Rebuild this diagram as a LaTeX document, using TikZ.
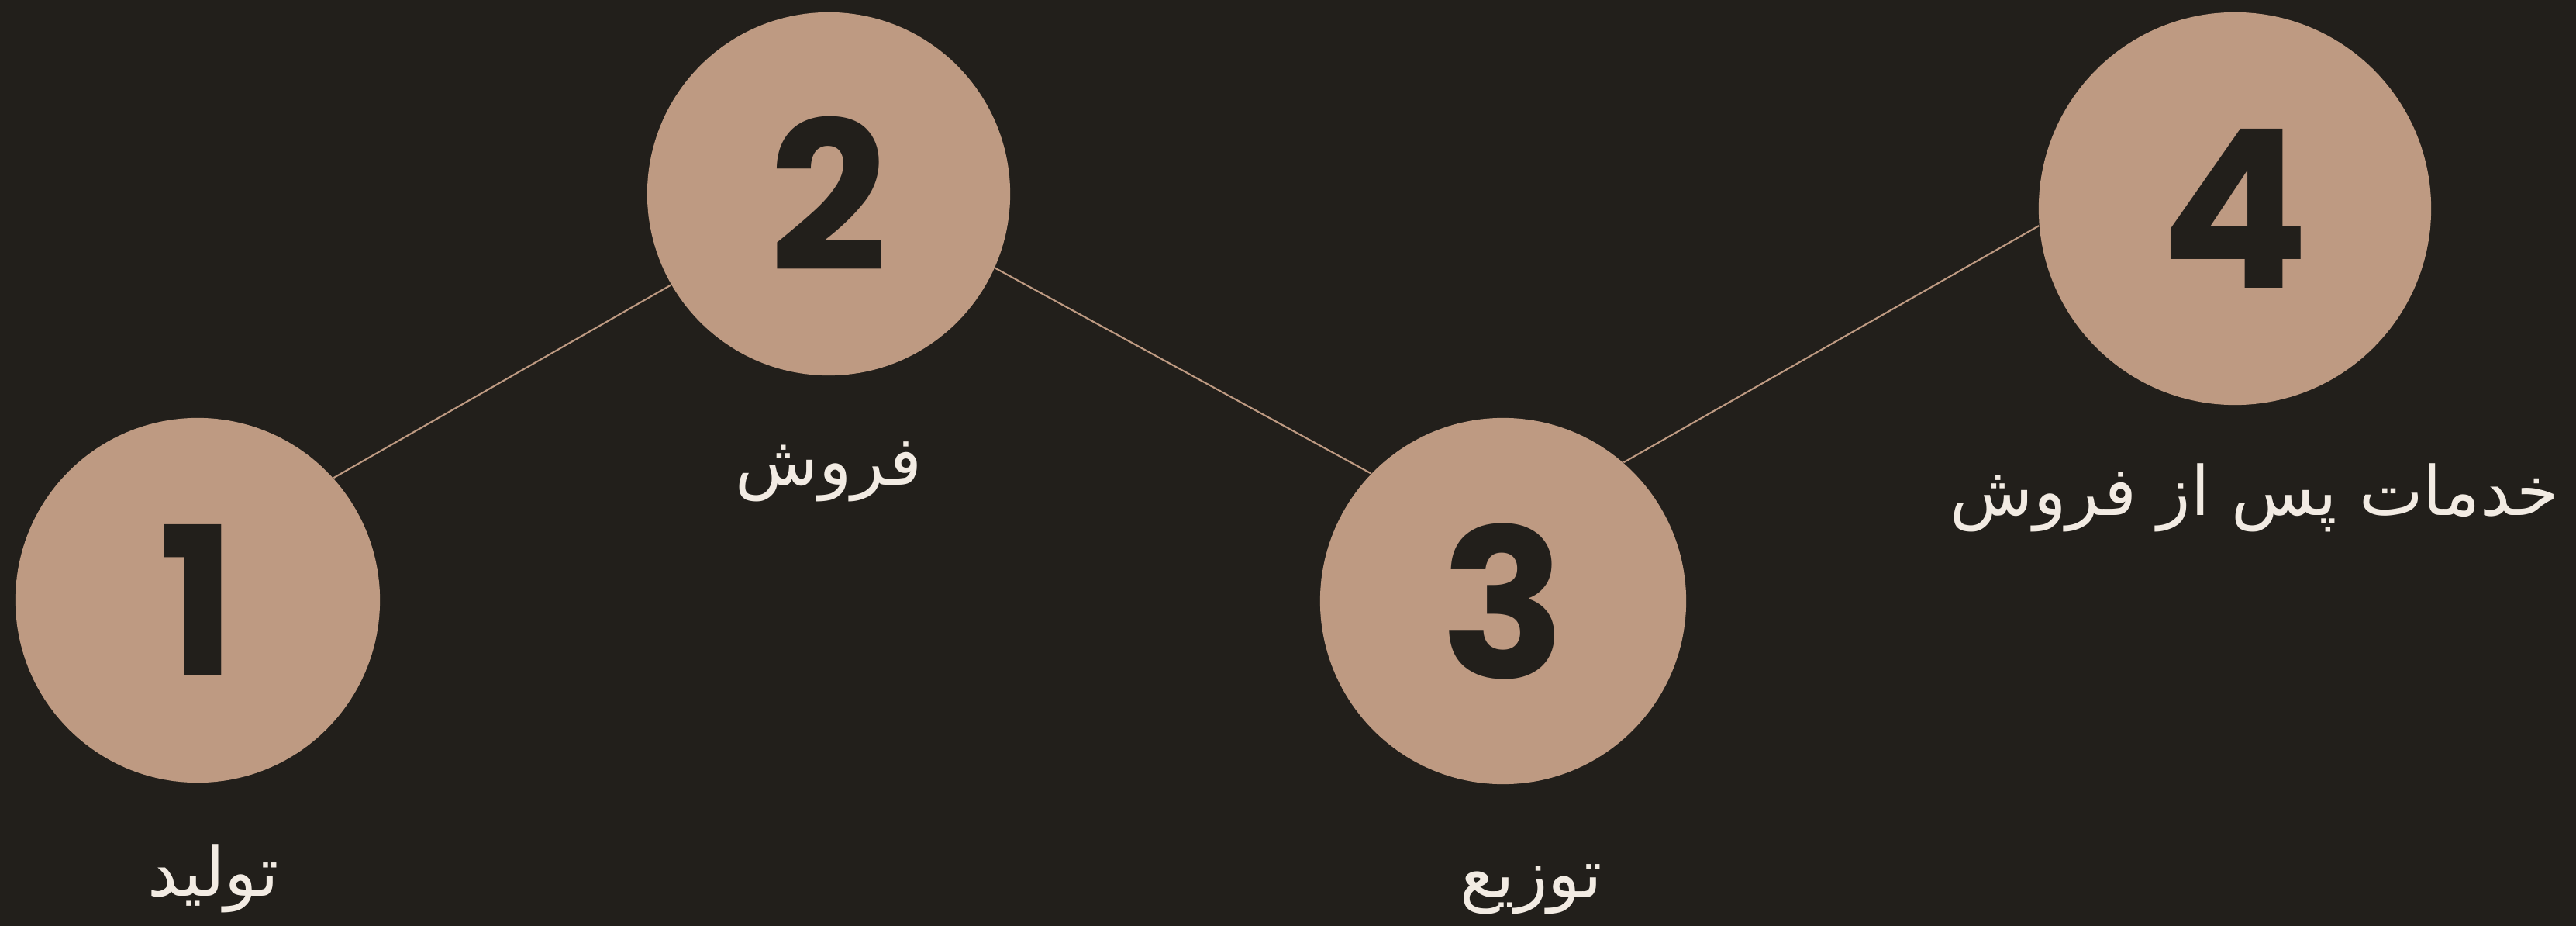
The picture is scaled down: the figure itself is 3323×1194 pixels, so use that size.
\documentclass[tikz,border=0pt]{standalone}
\usepackage{fontspec}
\setmainfont{Poppins}
\newfontfamily\arabicfont[Script=Arabic]{DejaVu Sans}
\TeXXeTstate=1
\definecolor{bgc}{HTML}{221F1B}
\definecolor{tanc}{HTML}{BE9A82}
\definecolor{creamc}{HTML}{F2EBE3}
\begin{document}
\begin{tikzpicture}[x=0.01cm,y=-0.01cm,
  stepcircle/.style={circle, fill=tanc, inner sep=0pt, text=bgc,
    font=\fontsize{76}{76}\selectfont\bfseries},
  lbl/.style={text=creamc, font=\arabicfont\fontsize{25}{28}\selectfont,
    anchor=base, inner sep=0pt},
  link/.style={draw=tanc, line width=0.6pt}]
\fill[bgc] (0,0) rectangle (3323,1194);
\useasboundingbox (0,0) rectangle (3323,1194);

\node[stepcircle, minimum size=4.7cm] (c1) at (255,774) {1};
\node[stepcircle, minimum size=4.68cm] (c2) at (1069,250) {2};
\node[stepcircle, minimum size=4.72cm] (c3) at (1939,775) {3};
\node[stepcircle, minimum size=5.06cm, font=\fontsize{81}{81}\selectfont\bfseries] (c4) at (2883,269) {4};

\draw[link] (c1.42) -- (c2.210);
\draw[link] (c2.336) -- (c3.136);
\draw[link] (c3.49) -- (c4.185);

\node[lbl] (l1) at (275,1155) {\beginR تولید\endR};
\node[lbl] (l2) at (1069,625) {\beginR فروش\endR};
\node[lbl] (l3) at (1975,1157) {\beginR توزیع\endR};
\node[lbl] (l4) at (2908,664) {\beginR خدمات پس از فروش\endR};
\end{tikzpicture}
\end{document}
